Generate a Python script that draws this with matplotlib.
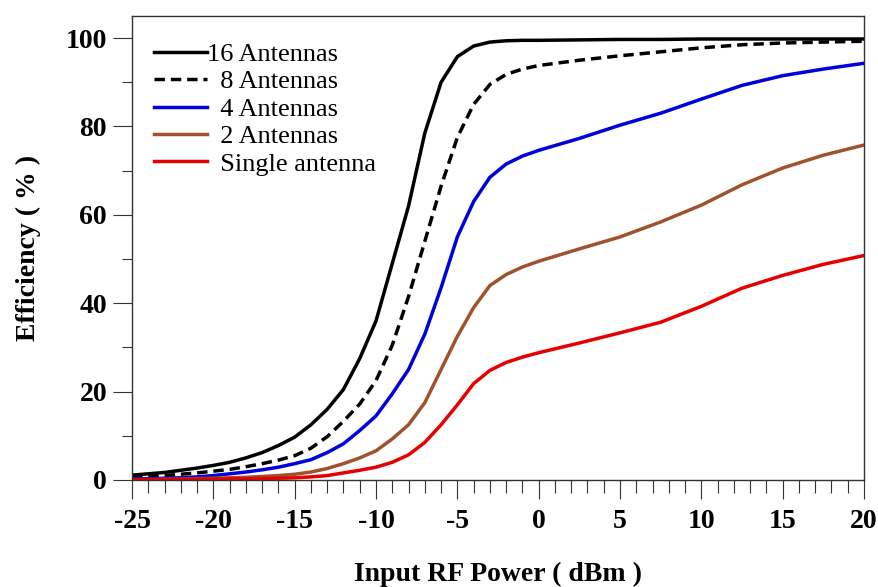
import matplotlib
matplotlib.use("Agg")
import matplotlib.pyplot as plt
from matplotlib.ticker import MultipleLocator

# input RF power (dBm)
power = [-25, -24, -23, -22, -21, -20, -19, -18, -17, -16, -15, -14, -13,
         -12, -11, -10, -9, -8, -7, -6, -5, -4, -3, -2, -1, 0,
         2.5, 5, 7.5, 10, 12.5, 15, 17.5, 20]

# efficiency (%)
eff_16 = [1.1, 1.4, 1.7, 2.2, 2.7, 3.3, 4.0, 5.0, 6.2, 7.8, 9.7, 12.5, 16.0,
          20.5, 27.5, 36.0, 49.0, 62.0, 78.5, 90.0, 95.8, 98.2, 99.1, 99.4, 99.5, 99.5,
          99.6, 99.7, 99.7, 99.8, 99.8, 99.8, 99.8, 99.8]
eff_8 = [0.6, 0.8, 1.0, 1.3, 1.6, 2.0, 2.4, 3.0, 3.7, 4.5, 5.5, 7.2, 9.8,
         13.3, 17.2, 22.5, 30.5, 41.5, 54.0, 66.5, 77.5, 85.0, 89.5, 91.8, 93.0, 93.8,
         95.0, 96.0, 96.9, 97.8, 98.5, 98.9, 99.1, 99.3]
eff_4 = [0.2, 0.3, 0.4, 0.5, 0.7, 1.0, 1.4, 1.8, 2.3, 2.9, 3.7, 4.6, 6.2,
         8.2, 11.2, 14.5, 19.5, 25.0, 33.0, 43.5, 55.0, 63.0, 68.5, 71.5, 73.3, 74.6,
         77.3, 80.3, 83.0, 86.2, 89.3, 91.5, 93.0, 94.3]
eff_2 = [0.1, 0.1, 0.2, 0.2, 0.3, 0.4, 0.5, 0.6, 0.8, 1.0, 1.3, 1.8, 2.6,
         3.7, 5.0, 6.6, 9.3, 12.5, 17.5, 25.0, 32.5, 39.0, 44.0, 46.5, 48.2, 49.5,
         52.3, 55.0, 58.4, 62.2, 66.8, 70.6, 73.5, 75.8]
eff_1 = [0.05, 0.07, 0.1, 0.12, 0.15, 0.2, 0.25, 0.3, 0.35, 0.4, 0.5, 0.7, 1.0,
         1.6, 2.2, 2.9, 4.0, 5.7, 8.5, 12.5, 17.0, 21.8, 24.8, 26.6, 27.8, 28.8,
         31.0, 33.3, 35.7, 39.3, 43.4, 46.3, 48.8, 50.8]

labels = ["16 Antennas", "  8 Antennas", "  4 Antennas", "  2 Antennas", "  Single antenna"]

plt.rcParams["font.family"] = ["Liberation Serif", "DejaVu Serif"]
plt.rcParams["axes.unicode_minus"] = False

fig = plt.figure(figsize=(8.79, 5.87), dpi=100)
ax = fig.add_axes([0.1502, 0.1823, 0.8327, 0.7904])

lw = 2.5
ax.plot(power, eff_16, color="black", lw=lw, label=labels[0])
ax.plot(power, eff_8, color="black", lw=lw, dashes=(3, 1.7), label=labels[1])
ax.plot(power, eff_4, color="#0000dd", lw=lw, label=labels[2])
ax.plot(power, eff_2, color="#a0522d", lw=lw, label=labels[3])
ax.plot(power, eff_1, color="#e60000", lw=lw, label=labels[4])

ax.set_xlim(-25, 20)
ax.set_ylim(0, 105)
ax.xaxis.set_major_locator(MultipleLocator(5))
ax.xaxis.set_minor_locator(MultipleLocator(1))
ax.yaxis.set_major_locator(MultipleLocator(20))
ax.yaxis.set_minor_locator(MultipleLocator(10))
ax.tick_params(which="both", direction="out", top=False, right=False, width=0.8, color="#333333")
ax.tick_params(axis="x", which="major", length=14, pad=7)
ax.tick_params(axis="x", which="minor", length=9)
ax.tick_params(axis="y", which="major", length=14, pad=4)
ax.tick_params(axis="y", which="minor", length=7)
for t in ax.get_xticklabels() + ax.get_yticklabels():
    t.set_fontsize(20)
    t.set_fontweight("bold")
for sp in ax.spines.values():
    sp.set_linewidth(1.0)
    sp.set_color("#333333")

ax.set_xlabel("Input RF Power ( dBm )", fontsize=20, fontweight="bold", labelpad=20)
ax.set_ylabel("Efficiency ( % )", fontsize=20, fontweight="bold", labelpad=18)

ax.legend(loc="upper left", bbox_to_anchor=(0.03, 0.943), frameon=False, fontsize=19,
          handlelength=2.0, handletextpad=0.0, labelspacing=0.15, borderpad=0,
          borderaxespad=0)

fig.savefig("out.png", dpi=100, facecolor="white")
